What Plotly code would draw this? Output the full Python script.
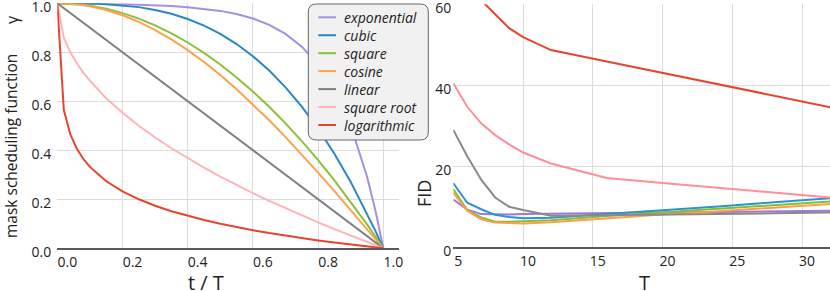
import plotly.graph_objects as go

W, H = 830, 291

# ---------------- data ----------------
names = ["exponential", "cubic", "square", "cosine", "linear", "square root", "logarithmic"]
colors = ["#a58fe0", "#2a86c4", "#8cbf3c", "#fba24f", "#7f7f7f", "#ffb3b9", "#e8442d"]
colors_right = ["#9b78e0", "#2a93d4", "#84bd3a", "#fc9f45", "#8a8a8a", "#ff8e98", "#e8442d"]

# left panel: mask scheduling functions
r = [0, 0.02, 0.04, 0.06, 0.08, 0.10, 0.15, 0.20, 0.25, 0.30, 0.35, 0.40, 0.45,
     0.50, 0.55, 0.60, 0.65, 0.70, 0.75, 0.80, 0.85, 0.90, 0.95, 0.975, 1.0]
gamma_exponential = [0.999, 0.999, 0.999, 0.999, 0.998, 0.998, 0.997, 0.996, 0.994, 0.992, 0.989,
                     0.984, 0.978, 0.969, 0.956, 0.938, 0.912, 0.875, 0.823, 0.750, 0.646, 0.500,
                     0.293, 0.159, 0.0]
gamma_cubic = [1.0, 1.0, 1.0, 0.9998, 0.9995, 0.999, 0.9966, 0.992, 0.9844, 0.973, 0.9571, 0.936,
               0.9089, 0.875, 0.8336, 0.784, 0.7254, 0.657, 0.5781, 0.488, 0.3859, 0.271, 0.1426,
               0.0731, 0.0]
gamma_square = [1.0, 0.9996, 0.9984, 0.9964, 0.9936, 0.99, 0.9775, 0.96, 0.9375, 0.91, 0.8775, 0.84,
                0.7975, 0.75, 0.6975, 0.64, 0.5775, 0.51, 0.4375, 0.36, 0.2775, 0.19, 0.0975,
                0.0494, 0.0]
gamma_cosine = [1.0, 0.9995, 0.998, 0.9956, 0.9921, 0.9877, 0.9724, 0.9511, 0.9239, 0.891, 0.8526,
                0.809, 0.7604, 0.7071, 0.6494, 0.5878, 0.5225, 0.454, 0.3827, 0.309, 0.2334,
                0.1564, 0.0785, 0.0393, 0.0]
gamma_linear = [1.0, 0.98, 0.96, 0.94, 0.92, 0.90, 0.85, 0.80, 0.75, 0.70, 0.65, 0.60, 0.55, 0.50,
                0.45, 0.40, 0.35, 0.30, 0.25, 0.20, 0.15, 0.10, 0.05, 0.025, 0.0]
gamma_sqrt = [1.0, 0.8586, 0.8, 0.7551, 0.7172, 0.6838, 0.6127, 0.5528, 0.5, 0.4523, 0.4084, 0.3675,
              0.3292, 0.2929, 0.2584, 0.2254, 0.1938, 0.1633, 0.134, 0.1056, 0.078, 0.0513, 0.0253,
              0.0126, 0.0]
gamma_log = [1.0, 0.5644, 0.4644, 0.4059, 0.3644, 0.3322, 0.2737, 0.2322, 0.2, 0.1737, 0.1515,
             0.1322, 0.1152, 0.1, 0.0862, 0.0737, 0.0621, 0.0515, 0.0415, 0.0322, 0.0234, 0.0152,
             0.0074, 0.0037, 0.0]
gammas = [gamma_exponential, gamma_cubic, gamma_square, gamma_cosine, gamma_linear, gamma_sqrt, gamma_log]

# right panel: FID vs number of iterations T
T = [5, 6, 7, 8, 9, 10, 12, 16, 20, 24, 28, 32]
fid_exponential = [11.8, 9.3, 8.2, 8.1, 8.1, 8.2, 8.3, 8.5, 8.6, 8.7, 8.9, 9.0]
fid_cubic = [15.8, 11.0, 9.4, 8.0, 7.5, 7.2, 7.3, 8.2, 9.1, 10.1, 11.1, 12.1]
fid_square = [14.3, 9.2, 7.4, 6.3, 6.3, 6.4, 6.7, 7.7, 8.6, 9.5, 10.4, 11.3]
fid_cosine = [13.5, 9.0, 6.9, 6.1, 6.0, 5.9, 6.2, 7.2, 8.1, 8.9, 9.8, 10.7]
fid_linear = [29.0, 22.5, 16.7, 12.3, 10.0, 9.2, 7.8, 7.9, 8.0, 8.2, 8.4, 8.6]
fid_sqrt = [40.5, 34.7, 30.6, 27.7, 25.4, 23.4, 20.7, 17.1, 15.9, 14.7, 13.5, 12.3]
fid_log = [70.0, 66.0, 61.0, 57.5, 54.1, 51.9, 48.7, 45.9, 43.1, 40.2, 37.4, 34.6]
fids = [fid_exponential, fid_cubic, fid_square, fid_cosine, fid_linear, fid_sqrt, fid_log]

left_ticks = [0.0, 0.2, 0.4, 0.6, 0.8, 1.0]
right_xticks = [5, 10, 15, 20, 25, 30]
right_yticks = [0, 20, 40, 60]

# ---------------- figure ----------------
FONT = "Open Sans"
TXT = "#222222"


def px(x):
    return x / W


def py(y):
    return 1 - y / H


fig = go.Figure()
for name, c, g in zip(names, colors, gammas):
    fig.add_trace(go.Scatter(x=r, y=g, mode="lines", name=name, showlegend=False,
                             line=dict(color=c, width=2), xaxis="x", yaxis="y"))
for name, c, f in zip(names, colors_right, fids):
    fig.add_trace(go.Scatter(x=T, y=f, mode="lines", name=name, showlegend=False,
                             line=dict(color=c, width=2), xaxis="x2", yaxis="y2"))

grid = "#dcdcdc"
axline = "#5a5a5a"
tickfont = dict(family=FONT, size=14, color=TXT)

fig.update_layout(
    width=W, height=H,
    margin=dict(l=0, r=0, t=0, b=0, autoexpand=False),
    paper_bgcolor="white", plot_bgcolor="white",
    font=dict(family=FONT, color=TXT),
    showlegend=False,
    xaxis=dict(domain=[px(57.3), px(399.3)], range=[0, 1.049], tickvals=left_ticks,
               tickformat=".1f", showgrid=True, gridcolor=grid, gridwidth=1,
               showline=True, linecolor=axline, linewidth=1.5, zeroline=False,
               ticks="", tickfont=tickfont, ticklabelshift=10, anchor="y", automargin=False),
    yaxis=dict(domain=[py(248.3), py(3.3)], range=[0, 1.0], tickvals=left_ticks,
               tickformat=".1f", showgrid=True, gridcolor=grid, gridwidth=1,
               showline=False, zeroline=False, ticks="", tickfont=tickfont,
               ticklabelshift=4, ticklabelstandoff=5, anchor="x", automargin=False,
               ticklabeloverflow="allow"),
    xaxis2=dict(domain=[px(453.3), 1.0], range=[5, 32], tickvals=right_xticks,
                showgrid=True, gridcolor=grid, gridwidth=1,
                showline=True, linecolor=axline, linewidth=1.5, zeroline=False,
                ticks="", tickfont=tickfont, ticklabelshift=5, anchor="y2", automargin=False),
    yaxis2=dict(domain=[py(247.3), py(4.3)], range=[0, 60], tickvals=right_yticks,
                showgrid=True, gridcolor=grid, gridwidth=1,
                showline=False, zeroline=False, ticks="", tickfont=tickfont,
                ticklabelshift=4, ticklabelstandoff=1, anchor="x2", automargin=False,
                ticklabeloverflow="allow"),
)

ann = []
# axis titles
ann.append(dict(text="t / T", x=px(206), y=py(282), xref="paper", yref="paper",
                showarrow=False, xanchor="center", yanchor="middle",
                font=dict(family=FONT, size=20, color=TXT)))
ann.append(dict(text="T", x=px(644), y=py(282), xref="paper", yref="paper",
                showarrow=False, xanchor="center", yanchor="middle",
                font=dict(family=FONT, size=20, color=TXT)))
ann.append(dict(text="mask scheduling function", x=px(11), y=py(146), xref="paper", yref="paper",
                showarrow=False, xanchor="center", yanchor="middle", textangle=-90,
                font=dict(family=FONT, size=15.5, color=TXT)))
ann.append(dict(text="γ", x=px(12), y=py(20), xref="paper", yref="paper",
                showarrow=False, xanchor="center", yanchor="middle", textangle=-90,
                font=dict(family=FONT, size=16, color=TXT)))
ann.append(dict(text="FID", x=px(424), y=py(194), xref="paper", yref="paper",
                showarrow=False, xanchor="center", yanchor="middle", textangle=-90,
                font=dict(family=FONT, size=18, color=TXT)))

# legend (drawn as a rounded box with line samples and italic labels)
bx0, bx1, by0, by1, rad = 308.3, 428.3, 4.0, 140.0, 8.0
path = (f"M{px(bx0 + rad)},{py(by0)} L{px(bx1 - rad)},{py(by0)} "
        f"Q{px(bx1)},{py(by0)} {px(bx1)},{py(by0 + rad)} "
        f"L{px(bx1)},{py(by1 - rad)} Q{px(bx1)},{py(by1)} {px(bx1 - rad)},{py(by1)} "
        f"L{px(bx0 + rad)},{py(by1)} Q{px(bx0)},{py(by1)} {px(bx0)},{py(by1 - rad)} "
        f"L{px(bx0)},{py(by0 + rad)} Q{px(bx0)},{py(by0)} {px(bx0 + rad)},{py(by0)} Z")
shapes = [dict(type="path", path=path, xref="paper", yref="paper", layer="above",
               fillcolor="#f1f1f1", line=dict(color="#666666", width=1))]
row_y0, row_dy = 17.3, 17.95
for i, (name, c) in enumerate(zip(names, colors)):
    yy = row_y0 + i * row_dy
    shapes.append(dict(type="line", xref="paper", yref="paper", layer="above",
                       x0=px(318.3), x1=px(336.0), y0=py(yy), y1=py(yy),
                       line=dict(color=c, width=2)))
    ann.append(dict(text=f"<i>{name}</i>", x=px(342.3), y=py(yy), xref="paper", yref="paper",
                    showarrow=False, xanchor="left", yanchor="middle",
                    font=dict(family=FONT, size=14, color=TXT)))

fig.update_layout(annotations=ann, shapes=shapes)
fig.write_html("out.html", config={"displayModeBar": False},
               post_script="document.body.style.margin='0';document.body.style.overflow='hidden';")
